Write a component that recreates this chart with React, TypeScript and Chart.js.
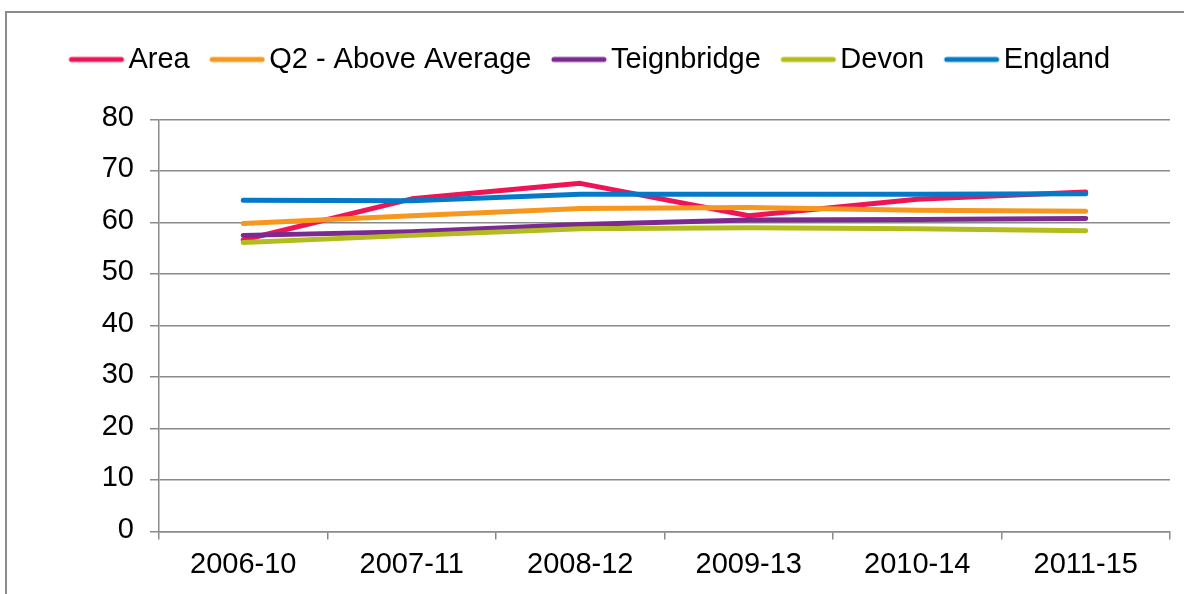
import React, { useEffect, useRef } from 'react';
import { Chart, registerables } from 'chart.js';

Chart.register(...registerables);

const categories = ['2006-10', '2007-11', '2008-12', '2009-13', '2010-14', '2011-15'];
const areaValues = [56.6, 64.6, 67.6, 61.3, 64.5, 65.9];
const q2Values = [59.8, 61.3, 62.7, 62.9, 62.4, 62.2];
const teignbridgeValues = [57.5, 58.2, 59.6, 60.5, 60.6, 60.8];
const devonValues = [56.1, 57.5, 58.8, 59.0, 58.8, 58.4];
const englandValues = [64.3, 64.2, 65.5, 65.5, 65.5, 65.6];
const seriesNames = ['Area', 'Q2 - Above Average', 'Teignbridge', 'Devon', 'England'];
const seriesValues = [areaValues, q2Values, teignbridgeValues, devonValues, englandValues];
const seriesColors = ['#ED1556', '#F7971E', '#7B2B8F', '#B3BC1F', '#0479C9'];
const yTickValues = [0, 10, 20, 30, 40, 50, 60, 70, 80];

const FONT_FAMILY = "'Liberation Sans', Arial, sans-serif";
const GRID = '#8a8a8a';
const LINE_W = 5;

function makeLegendLine(color: string) {
  const c = document.createElement('canvas');
  c.width = 110;
  c.height = 10;
  const ctx = c.getContext('2d')!;
  ctx.strokeStyle = color;
  ctx.lineWidth = LINE_W;
  ctx.lineCap = 'round';
  ctx.beginPath();
  ctx.moveTo(32.5 + LINE_W / 2, 5);
  ctx.lineTo(87.5 - LINE_W / 2, 5);
  ctx.stroke();
  return c;
}

const legendSpacer = {
  id: 'legendSpacer',
  beforeLayout(chart: any) {
    const legend = chart.legend;
    if (legend && !legend.__spaced) {
      legend.__spaced = true;
      const origFit = legend.fit;
      legend.fit = function () {
        origFit.call(this);
        this.height = this.height + 35.5;
      };
    }
  },
};

export default function App() {
  const ref = useRef<HTMLCanvasElement>(null);

  useEffect(() => {
    const canvas = ref.current!;
    const lineImgs = seriesColors.map(makeLegendLine);
    const font = { family: FONT_FAMILY, size: 29 };
    const chart = new Chart(canvas, {
      type: 'line',
      data: {
        labels: categories,
        datasets: seriesNames.map((name, i) => ({
          label: name,
          data: seriesValues[i],
          borderColor: seriesColors[i],
          backgroundColor: seriesColors[i],
          borderWidth: LINE_W,
          borderCapStyle: 'round',
          borderJoinStyle: 'round',
          pointRadius: 0,
          pointHoverRadius: 0,
          tension: 0,
          fill: false,
          order: seriesNames.length - i,
        })),
      },
      options: {
        responsive: false,
        animation: false,
        devicePixelRatio: 1,
        layout: { padding: { left: 9, right: 14, top: 25, bottom: 0 } },
        plugins: {
          legend: {
            position: 'top',
            align: 'center',
            labels: {
              usePointStyle: true,
              pointStyleWidth: 45,
              padding: 20,
              color: '#000',
              font,
              generateLabels(ch: any) {
                const items = (Chart.defaults.plugins.legend.labels as any).generateLabels(ch);
                items.forEach((it: any) => {
                  it.pointStyle = lineImgs[it.datasetIndex];
                });
                return items;
              },
              sort: (a: any, b: any) => a.datasetIndex - b.datasetIndex,
            },
          },
          tooltip: { enabled: false },
        },
        scales: {
          x: {
            type: 'category',
            offset: true,
            grid: {
              display: true,
              drawOnChartArea: false,
              drawTicks: true,
              tickLength: 8,
              color: GRID,
              lineWidth: 1.5,
              offset: true,
            },
            border: { display: true, color: GRID, width: 1.5 },
            ticks: { color: '#000', font, padding: 8.5, maxRotation: 0, autoSkip: false },
            afterFit(scale: any) {
              scale.height = 62.5;
            },
          },
          y: {
            min: 0,
            max: 80,
            afterBuildTicks(scale: any) {
              scale.ticks = yTickValues.map((v) => ({ value: v }));
            },
            ticks: { color: '#000', font, padding: 16, labelOffset: -2 },
            grid: { color: GRID, lineWidth: 1.5, tickLength: 9, drawTicks: true },
            border: { display: true, color: GRID, width: 1.5 },
            afterFit(scale: any) {
              scale.width = 150;
            },
          },
        },
      } as any,
      plugins: [legendSpacer as any],
    });
    return () => chart.destroy();
  }, []);

  return (
    <div style={{ position: 'fixed', left: 0, top: 0, width: 1184, height: 594, overflow: 'hidden', background: '#fff' }}>
      <div
        style={{
          position: 'absolute',
          left: 5,
          top: 11,
          width: 1400,
          height: 800,
          border: '2px solid #8c8c8c',
          boxSizing: 'border-box',
        }}
      />
      <canvas
        ref={ref}
        width={1184}
        height={594}
        style={{ position: 'absolute', left: 0, top: 0, width: 1184, height: 594 }}
      />
    </div>
  );
}
